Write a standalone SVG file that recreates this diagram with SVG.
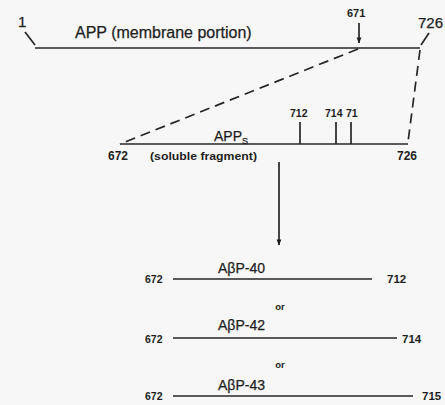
<svg xmlns="http://www.w3.org/2000/svg" width="445" height="405" viewBox="0 0 445 405">
<defs>
<style>
.ln{stroke:#262626;stroke-width:1.7;fill:none}
.dash{stroke:#262626;stroke-width:1.7;fill:none;stroke-dasharray:10 6}
.t{font-family:"Liberation Sans",Arial,sans-serif;fill:#1e1e1e;stroke:#1e1e1e;stroke-width:0.25}
.b{font-family:"Liberation Sans",Arial,sans-serif;fill:#1e1e1e;font-weight:bold}
</style>
<marker id="ah" viewBox="0 0 10 10" refX="9" refY="5" markerWidth="7" markerHeight="6" orient="auto" markerUnits="userSpaceOnUse">
<path d="M0,1 L10,5 L0,9 Z" fill="#1e1e1e"/>
</marker>
</defs>
<rect width="445" height="405" fill="#f7f7f7"/>
<g id="app">
<line class="ln" x1="35" y1="48" x2="420" y2="48"/>
<line class="ln" x1="25" y1="32" x2="35" y2="45"/>
<line class="ln" x1="421" y1="45" x2="429" y2="33"/>
<text class="t" x="18" y="27" font-size="15">1</text>
<text class="t" x="418" y="28" font-size="15">726</text>
<text class="t" x="75" y="38" font-size="16">APP (membrane portion)</text>
<text class="b" x="347" y="17" font-size="11">671</text>
</g>
<g id="apps">
<line class="ln" x1="120" y1="144" x2="408" y2="144"/>
<line class="ln" x1="300" y1="122" x2="300" y2="144"/>
<line class="ln" x1="336" y1="122" x2="336" y2="144"/>
<line class="ln" x1="351" y1="122" x2="351" y2="144"/>
<text class="b" x="290" y="117" font-size="10.5">712</text>
<text class="b" x="325" y="117" font-size="10.5">714</text>
<text class="b" x="346" y="117" font-size="10.5">71</text>
<text class="t" x="214" y="141" font-size="14">APP<tspan font-size="9" dy="3">S</tspan></text>
<text class="b" x="108" y="160" font-size="12">672</text>
<text class="b" x="150" y="160" font-size="11" textLength="107" lengthAdjust="spacingAndGlyphs">(soluble fragment)</text>
<text class="b" x="397" y="160" font-size="12">726</text>
</g>
<g id="abp40">
<line class="ln" x1="173" y1="279" x2="372" y2="279"/>
<text class="b" x="145" y="283" font-size="10.5">672</text>
<text class="b" x="387" y="283" font-size="11.5">712</text>
<text class="t" x="218" y="273" font-size="14">AβP-40</text>
</g>
<g id="or1"><text class="b" x="280" y="310" font-size="9.5" text-anchor="middle">or</text></g>
<g id="abp42">
<line class="ln" x1="173" y1="338" x2="397" y2="338"/>
<text class="b" x="145" y="343" font-size="10.5">672</text>
<text class="b" x="402" y="343" font-size="11.5">714</text>
<text class="t" x="218" y="330" font-size="14">AβP-42</text>
</g>
<g id="or2"><text class="b" x="280" y="368" font-size="9.5" text-anchor="middle">or</text></g>
<g id="abp43">
<line class="ln" x1="173" y1="396" x2="413" y2="396"/>
<text class="b" x="145" y="400" font-size="10.5">672</text>
<text class="b" x="422" y="400" font-size="11.5">715</text>
<text class="t" x="218" y="390" font-size="14">AβP-43</text>
</g>
<g id="connectors">
<line class="ln" x1="359" y1="23" x2="359" y2="43" marker-end="url(#ah)"/>
<line class="dash" x1="358" y1="49" x2="120" y2="144"/>
<line class="dash" x1="420" y1="50" x2="408" y2="142"/>
<line class="ln" x1="279" y1="162" x2="279" y2="245" marker-end="url(#ah)"/>
</g>
</svg>
